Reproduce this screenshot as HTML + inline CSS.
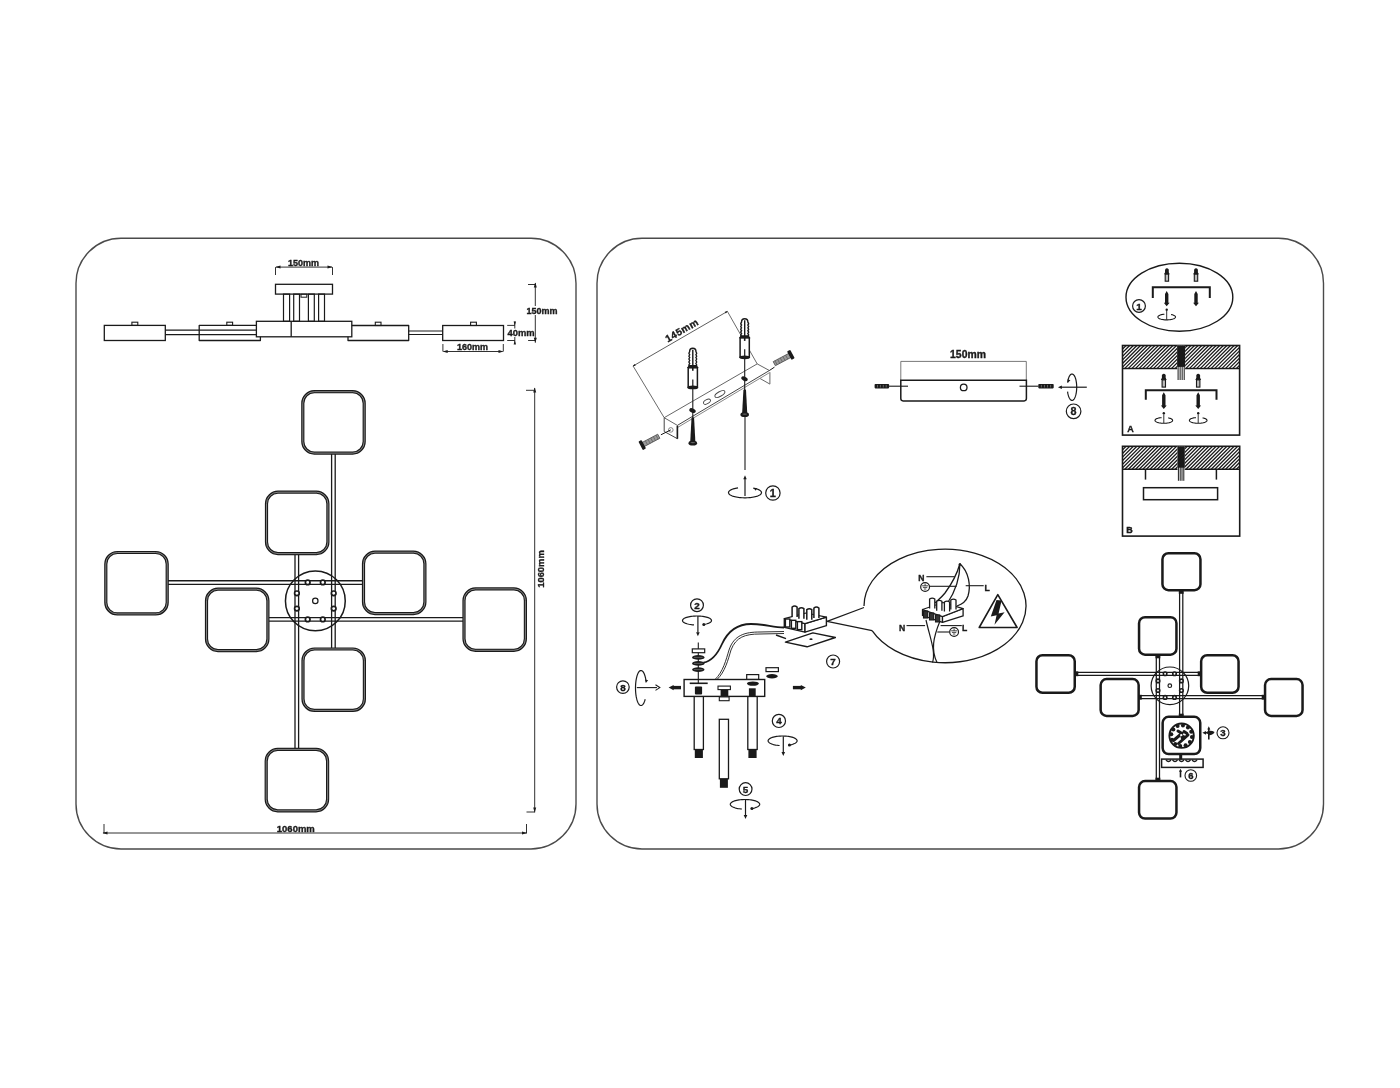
<!DOCTYPE html>
<html><head><meta charset="utf-8"><style>
html,body{margin:0;padding:0;background:#fff;}
body{width:1400px;height:1088px;overflow:hidden;}
svg{display:block;will-change:transform;}
text{font-family:"Liberation Sans",sans-serif;font-weight:bold;stroke:#1a1a1a;stroke-width:0.35px;}
</style></head><body>
<svg width="1400" height="1088" viewBox="0 0 1400 1088">
<rect width="1400" height="1088" fill="#fff"/>
<path d="M121.00,238.30 H531.00 A45,45 0 0 1 576.00,283.30 V804.00 A45,45 0 0 1 531.00,849.00 H121.00 A45,45 0 0 1 76.00,804.00 V283.30 A45,45 0 0 1 121.00,238.30 Z" fill="none" stroke="#4a4a4a" stroke-width="1.4"/>
<path d="M642.00,238.30 H1278.50 A45,45 0 0 1 1323.50,283.30 V804.00 A45,45 0 0 1 1278.50,849.00 H642.00 A45,45 0 0 1 597.00,804.00 V283.30 A45,45 0 0 1 642.00,238.30 Z" fill="none" stroke="#4a4a4a" stroke-width="1.4"/>
<path d="M168,580.75 H362.5 M168,584.35 H362.5" stroke="#1a1a1a" stroke-width="1.3" fill="none"/>
<path d="M268,617.55 H463 M268,621.15 H463" stroke="#1a1a1a" stroke-width="1.3" fill="none"/>
<path d="M295.00,554 V748 M298.60,554 V748" stroke="#1a1a1a" stroke-width="1.3" fill="none"/>
<path d="M331.60,454 V648 M335.20,454 V648" stroke="#1a1a1a" stroke-width="1.3" fill="none"/>
<path d="M314.30,391.70 H352.70 A11.5,11.5 0 0 1 364.20,403.20 V441.60 A11.5,11.5 0 0 1 352.70,453.10 H314.30 A11.5,11.5 0 0 1 302.80,441.60 V403.20 A11.5,11.5 0 0 1 314.30,391.70 Z" fill="none" stroke="#1a1a1a" stroke-width="3.2"/>
<path d="M314.30,391.70 H352.70 A11.5,11.5 0 0 1 364.20,403.20 V441.60 A11.5,11.5 0 0 1 352.70,453.10 H314.30 A11.5,11.5 0 0 1 302.80,441.60 V403.20 A11.5,11.5 0 0 1 314.30,391.70 Z" fill="none" stroke="#a0a0a0" stroke-width="0.8"/>
<path d="M278.00,492.20 H316.40 A11.5,11.5 0 0 1 327.90,503.70 V542.10 A11.5,11.5 0 0 1 316.40,553.60 H278.00 A11.5,11.5 0 0 1 266.50,542.10 V503.70 A11.5,11.5 0 0 1 278.00,492.20 Z" fill="none" stroke="#1a1a1a" stroke-width="3.2"/>
<path d="M278.00,492.20 H316.40 A11.5,11.5 0 0 1 327.90,503.70 V542.10 A11.5,11.5 0 0 1 316.40,553.60 H278.00 A11.5,11.5 0 0 1 266.50,542.10 V503.70 A11.5,11.5 0 0 1 278.00,492.20 Z" fill="none" stroke="#a0a0a0" stroke-width="0.8"/>
<path d="M117.30,552.50 H155.70 A11.5,11.5 0 0 1 167.20,564.00 V602.40 A11.5,11.5 0 0 1 155.70,613.90 H117.30 A11.5,11.5 0 0 1 105.80,602.40 V564.00 A11.5,11.5 0 0 1 117.30,552.50 Z" fill="none" stroke="#1a1a1a" stroke-width="3.2"/>
<path d="M117.30,552.50 H155.70 A11.5,11.5 0 0 1 167.20,564.00 V602.40 A11.5,11.5 0 0 1 155.70,613.90 H117.30 A11.5,11.5 0 0 1 105.80,602.40 V564.00 A11.5,11.5 0 0 1 117.30,552.50 Z" fill="none" stroke="#a0a0a0" stroke-width="0.8"/>
<path d="M375.00,552.20 H413.40 A11.5,11.5 0 0 1 424.90,563.70 V602.10 A11.5,11.5 0 0 1 413.40,613.60 H375.00 A11.5,11.5 0 0 1 363.50,602.10 V563.70 A11.5,11.5 0 0 1 375.00,552.20 Z" fill="none" stroke="#1a1a1a" stroke-width="3.2"/>
<path d="M375.00,552.20 H413.40 A11.5,11.5 0 0 1 424.90,563.70 V602.10 A11.5,11.5 0 0 1 413.40,613.60 H375.00 A11.5,11.5 0 0 1 363.50,602.10 V563.70 A11.5,11.5 0 0 1 375.00,552.20 Z" fill="none" stroke="#a0a0a0" stroke-width="0.8"/>
<path d="M218.00,589.20 H256.40 A11.5,11.5 0 0 1 267.90,600.70 V639.10 A11.5,11.5 0 0 1 256.40,650.60 H218.00 A11.5,11.5 0 0 1 206.50,639.10 V600.70 A11.5,11.5 0 0 1 218.00,589.20 Z" fill="none" stroke="#1a1a1a" stroke-width="3.2"/>
<path d="M218.00,589.20 H256.40 A11.5,11.5 0 0 1 267.90,600.70 V639.10 A11.5,11.5 0 0 1 256.40,650.60 H218.00 A11.5,11.5 0 0 1 206.50,639.10 V600.70 A11.5,11.5 0 0 1 218.00,589.20 Z" fill="none" stroke="#a0a0a0" stroke-width="0.8"/>
<path d="M475.50,588.90 H513.90 A11.5,11.5 0 0 1 525.40,600.40 V638.80 A11.5,11.5 0 0 1 513.90,650.30 H475.50 A11.5,11.5 0 0 1 464.00,638.80 V600.40 A11.5,11.5 0 0 1 475.50,588.90 Z" fill="none" stroke="#1a1a1a" stroke-width="3.2"/>
<path d="M475.50,588.90 H513.90 A11.5,11.5 0 0 1 525.40,600.40 V638.80 A11.5,11.5 0 0 1 513.90,650.30 H475.50 A11.5,11.5 0 0 1 464.00,638.80 V600.40 A11.5,11.5 0 0 1 475.50,588.90 Z" fill="none" stroke="#a0a0a0" stroke-width="0.8"/>
<path d="M314.50,649.00 H352.90 A11.5,11.5 0 0 1 364.40,660.50 V698.90 A11.5,11.5 0 0 1 352.90,710.40 H314.50 A11.5,11.5 0 0 1 303.00,698.90 V660.50 A11.5,11.5 0 0 1 314.50,649.00 Z" fill="none" stroke="#1a1a1a" stroke-width="3.2"/>
<path d="M314.50,649.00 H352.90 A11.5,11.5 0 0 1 364.40,660.50 V698.90 A11.5,11.5 0 0 1 352.90,710.40 H314.50 A11.5,11.5 0 0 1 303.00,698.90 V660.50 A11.5,11.5 0 0 1 314.50,649.00 Z" fill="none" stroke="#a0a0a0" stroke-width="0.8"/>
<path d="M277.70,749.40 H316.10 A11.5,11.5 0 0 1 327.60,760.90 V799.30 A11.5,11.5 0 0 1 316.10,810.80 H277.70 A11.5,11.5 0 0 1 266.20,799.30 V760.90 A11.5,11.5 0 0 1 277.70,749.40 Z" fill="none" stroke="#1a1a1a" stroke-width="3.2"/>
<path d="M277.70,749.40 H316.10 A11.5,11.5 0 0 1 327.60,760.90 V799.30 A11.5,11.5 0 0 1 316.10,810.80 H277.70 A11.5,11.5 0 0 1 266.20,799.30 V760.90 A11.5,11.5 0 0 1 277.70,749.40 Z" fill="none" stroke="#a0a0a0" stroke-width="0.8"/>
<circle cx="315.35" cy="600.9" r="29.9" fill="none" stroke="#1a1a1a" stroke-width="1.5"/>
<circle cx="307.7" cy="582.4" r="2.3" fill="#fff" stroke="#1a1a1a" stroke-width="1.7"/>
<circle cx="322.8" cy="582.4" r="2.3" fill="#fff" stroke="#1a1a1a" stroke-width="1.7"/>
<circle cx="296.9" cy="593.3" r="2.3" fill="#fff" stroke="#1a1a1a" stroke-width="1.7"/>
<circle cx="333.7" cy="593.3" r="2.3" fill="#fff" stroke="#1a1a1a" stroke-width="1.7"/>
<circle cx="296.9" cy="608.6" r="2.3" fill="#fff" stroke="#1a1a1a" stroke-width="1.7"/>
<circle cx="333.7" cy="608.6" r="2.3" fill="#fff" stroke="#1a1a1a" stroke-width="1.7"/>
<circle cx="307.7" cy="619.4" r="2.3" fill="#fff" stroke="#1a1a1a" stroke-width="1.7"/>
<circle cx="322.8" cy="619.4" r="2.3" fill="#fff" stroke="#1a1a1a" stroke-width="1.7"/>
<circle cx="315.3" cy="600.9" r="2.7" fill="#fff" stroke="#1a1a1a" stroke-width="1.2"/>
<rect x="104.3" y="325.4" width="61.00" height="15.10" rx="0" fill="none" stroke="#1a1a1a" stroke-width="1.3"/>
<rect x="131.9" y="322.2" width="5.90" height="3.20" rx="0" fill="none" stroke="#1a1a1a" stroke-width="1.1"/>
<path d="M165.3,330.20 H256.4 M165.3,334.60 H256.4" stroke="#1a1a1a" stroke-width="1.2" fill="none"/>
<path d="M256.40,325.40 L199.20,325.40 L199.20,340.50 L260.40,340.50 L260.40,336.80" fill="none" stroke="#1a1a1a" stroke-width="1.3" stroke-linejoin="round" />
<rect x="226.8" y="322.2" width="5.80" height="3.20" rx="0" fill="none" stroke="#1a1a1a" stroke-width="1.1"/>
<rect x="256.4" y="321.3" width="95.40" height="15.50" rx="0" fill="none" stroke="#1a1a1a" stroke-width="1.3"/>
<line x1="291.2" y1="321.3" x2="291.2" y2="336.8" stroke="#1a1a1a" stroke-width="1.3" />
<path d="M351.80,325.50 L408.70,325.50 L408.70,340.50 L348.00,340.50 L348.00,336.80" fill="none" stroke="#1a1a1a" stroke-width="1.3" stroke-linejoin="round" />
<rect x="375.3" y="322.2" width="5.70" height="3.30" rx="0" fill="none" stroke="#1a1a1a" stroke-width="1.1"/>
<path d="M408.7,331.00 H442.7 M408.7,334.50 H442.7" stroke="#1a1a1a" stroke-width="1.2" fill="none"/>
<rect x="442.7" y="325.5" width="60.80" height="15.00" rx="0" fill="none" stroke="#1a1a1a" stroke-width="1.3"/>
<rect x="470.6" y="322.2" width="5.80" height="3.30" rx="0" fill="none" stroke="#1a1a1a" stroke-width="1.1"/>
<rect x="275.5" y="284.3" width="57.00" height="9.80" rx="0" fill="none" stroke="#1a1a1a" stroke-width="1.3"/>
<rect x="283.5" y="294.1" width="6.10" height="27.20" rx="0" fill="none" stroke="#1a1a1a" stroke-width="1.2"/>
<rect x="293.7" y="294.1" width="5.80" height="27.20" rx="0" fill="none" stroke="#1a1a1a" stroke-width="1.2"/>
<rect x="308.4" y="294.1" width="5.90" height="27.20" rx="0" fill="none" stroke="#1a1a1a" stroke-width="1.2"/>
<rect x="318.6" y="294.1" width="5.90" height="27.20" rx="0" fill="none" stroke="#1a1a1a" stroke-width="1.2"/>
<rect x="301" y="294.1" width="5.80" height="3.10" rx="0" fill="none" stroke="#1a1a1a" stroke-width="1.0"/>
<line x1="276" y1="267.1" x2="332" y2="267.1" stroke="#1a1a1a" stroke-width="0.9" />
<path d="M275.50,267.10 L280.50,265.60 L280.50,268.60 Z" fill="#1a1a1a"/>
<path d="M332.50,267.10 L327.50,268.60 L327.50,265.60 Z" fill="#1a1a1a"/>
<line x1="275.5" y1="267.1" x2="275.5" y2="275" stroke="#1a1a1a" stroke-width="0.9" />
<line x1="332.5" y1="267.1" x2="332.5" y2="275" stroke="#1a1a1a" stroke-width="0.9" />
<text x="303.6" y="265.9" font-size="9" text-anchor="middle" fill="#1a1a1a" >150mm</text>
<line x1="443.5" y1="351.5" x2="502.5" y2="351.5" stroke="#1a1a1a" stroke-width="0.9" />
<path d="M442.70,351.50 L447.70,350.00 L447.70,353.00 Z" fill="#1a1a1a"/>
<path d="M503.50,351.50 L498.50,353.00 L498.50,350.00 Z" fill="#1a1a1a"/>
<line x1="442.9" y1="344" x2="442.9" y2="351.5" stroke="#1a1a1a" stroke-width="0.9" />
<line x1="503.3" y1="344" x2="503.3" y2="351.5" stroke="#1a1a1a" stroke-width="0.9" />
<text x="472.5" y="349.6" font-size="9" text-anchor="middle" fill="#1a1a1a" >160mm</text>
<line x1="514.8" y1="321.5" x2="514.8" y2="344" stroke="#1a1a1a" stroke-width="0.9" />
<path d="M514.80,325.40 L513.60,321.40 L516.00,321.40 Z" fill="#1a1a1a"/>
<path d="M514.80,340.50 L516.00,344.50 L513.60,344.50 Z" fill="#1a1a1a"/>
<line x1="507.2" y1="325.4" x2="514.8" y2="325.4" stroke="#1a1a1a" stroke-width="0.9" />
<line x1="507.2" y1="340.5" x2="514.8" y2="340.5" stroke="#1a1a1a" stroke-width="0.9" />
<rect x="507" y="328.5" width="28" height="8.5" fill="#fff"/>
<text x="507.5" y="335.6" font-size="9.4" text-anchor="start" fill="#1a1a1a" >40mm</text>
<line x1="535.3" y1="283" x2="535.3" y2="342.7" stroke="#1a1a1a" stroke-width="0.9" />
<path d="M535.30,282.50 L536.80,287.50 L533.80,287.50 Z" fill="#1a1a1a"/>
<path d="M535.30,342.70 L533.80,337.70 L536.80,337.70 Z" fill="#1a1a1a"/>
<line x1="528" y1="284.5" x2="535.3" y2="284.5" stroke="#1a1a1a" stroke-width="0.9" />
<line x1="528.1" y1="340.5" x2="535.3" y2="340.5" stroke="#1a1a1a" stroke-width="0.9" />
<rect x="524" y="306" width="36" height="9" fill="#fff"/>
<text x="526.5" y="313.8" font-size="9" text-anchor="start" fill="#1a1a1a" >150mm</text>
<line x1="534.7" y1="388" x2="534.7" y2="812.4" stroke="#1a1a1a" stroke-width="0.9" />
<path d="M534.70,387.50 L536.20,392.50 L533.20,392.50 Z" fill="#1a1a1a"/>
<path d="M534.70,812.40 L533.20,807.40 L536.20,807.40 Z" fill="#1a1a1a"/>
<line x1="526" y1="390.3" x2="534.7" y2="390.3" stroke="#1a1a1a" stroke-width="0.9" />
<line x1="526.5" y1="812" x2="534.7" y2="812" stroke="#1a1a1a" stroke-width="0.9" />
<text x="540.3" y="569" font-size="9.4" text-anchor="middle" fill="#1a1a1a" transform="rotate(-90 540.3 569)" dominant-baseline="central">1060mm</text>
<line x1="103" y1="833" x2="527" y2="833" stroke="#1a1a1a" stroke-width="0.9" />
<path d="M102.50,833.00 L107.50,831.50 L107.50,834.50 Z" fill="#1a1a1a"/>
<path d="M527.00,833.00 L522.00,834.50 L522.00,831.50 Z" fill="#1a1a1a"/>
<line x1="104" y1="824" x2="104" y2="833" stroke="#1a1a1a" stroke-width="0.9" />
<line x1="526.5" y1="824" x2="526.5" y2="833" stroke="#1a1a1a" stroke-width="0.9" />
<text x="295.8" y="831.6" font-size="9.5" text-anchor="middle" fill="#1a1a1a" >1060mm</text>
<line x1="633.1" y1="366" x2="727.4" y2="311.4" stroke="#333" stroke-width="0.8" />
<path d="M632.60,366.30 L634.70,363.93 L635.70,365.67 Z" fill="#1a1a1a"/>
<path d="M727.90,311.10 L725.80,313.47 L724.80,311.73 Z" fill="#1a1a1a"/>
<line x1="633.1" y1="366" x2="664.2" y2="417.7" stroke="#444" stroke-width="0.8" />
<line x1="727.4" y1="311.4" x2="757.2" y2="363.9" stroke="#444" stroke-width="0.8" />
<text x="0" y="0" font-size="9.9" letter-spacing="0.55" text-anchor="middle" fill="#1a1a1a" transform="translate(683.6,333.2) rotate(-30.07)">145mm</text>
<line x1="664.2" y1="417.7" x2="757.2" y2="363.9" stroke="#555" stroke-width="0.9" />
<line x1="757.2" y1="363.9" x2="769.4" y2="370.5" stroke="#555" stroke-width="0.9" />
<line x1="664.2" y1="417.7" x2="677.4" y2="425.4" stroke="#555" stroke-width="0.9" />
<line x1="677.4" y1="425.4" x2="769.4" y2="370.5" stroke="#444" stroke-width="1.0" />
<line x1="677.4" y1="427.6" x2="769.4" y2="372.7" stroke="#888" stroke-width="1.0" />
<path d="M664.20,417.70 L664.20,431.50 L677.40,438.70 L677.40,425.40" fill="none" stroke="#444" stroke-width="1.0" stroke-linejoin="round" />
<line x1="677.4" y1="426" x2="677.4" y2="438.7" stroke="#1a1a1a" stroke-width="1.6" />
<path d="M769.90,372.20 L769.90,384.10 L760.20,378.60" fill="none" stroke="#666" stroke-width="1.0" stroke-linejoin="round" />
<circle cx="670.8" cy="429.9" r="2.3" fill="none" stroke="#777" stroke-width="0.9"/>
<ellipse cx="707" cy="401.7" rx="3.8" ry="2" transform="rotate(-30 707 401.7)" fill="none" stroke="#444" stroke-width="0.9"/>
<ellipse cx="719.9" cy="394" rx="5.6" ry="2.3" transform="rotate(-30 719.9 394)" fill="none" stroke="#444" stroke-width="0.9"/>
<line x1="692.8" y1="387.4" x2="692.8" y2="421" stroke="#1a1a1a" stroke-width="1.1" />
<path d="M689.5999999999999,366.3 Q688.1999999999999,364.85 689.5999999999999,363.40 Q688.1999999999999,361.95 689.5999999999999,360.50 Q688.1999999999999,359.05 689.5999999999999,357.60 Q688.1999999999999,356.15 689.5999999999999,354.70 Q688.1999999999999,353.25 689.5999999999999,351.80 Q689.5999999999999,348.3 692.8,348.3 Q696.0,348.3 696.0,351.8 Q697.4,353.25 696.0,354.70 Q697.4,356.15 696.0,357.60 Q697.4,359.05 696.0,360.50 Q697.4,361.95 696.0,363.40 Q697.4,364.85 696.0,366.30" fill="#fff" stroke="#1a1a1a" stroke-width="1.4"/>
<line x1="692.8" y1="349.8" x2="692.8" y2="370.3" stroke="#1a1a1a" stroke-width="1.4" />
<path d="M687.0,368.1 L688.8,365.1 H696.8 L698.5999999999999,368.1 Z" fill="#1a1a1a"/>
<rect x="688.1999999999999" y="367.8" width="9.20" height="19.60" rx="0" fill="#fff" stroke="#1a1a1a" stroke-width="1.5"/>
<line x1="692.8" y1="367.8" x2="692.8" y2="370.8" stroke="#1a1a1a" stroke-width="1.6" />
<line x1="692.8" y1="379.4" x2="692.8" y2="387.4" stroke="#1a1a1a" stroke-width="1.2" />
<ellipse cx="692.8" cy="387.4" rx="5.4" ry="1.9" fill="#1a1a1a"/>
<ellipse cx="692.5" cy="410.6" rx="3.4" ry="2.1" transform="rotate(25 692.5 410.6)" fill="#1a1a1a"/>
<path d="M691.5,418 Q692.8,416.5 694.0999999999999,418 L695.4,442.5 L690.1999999999999,442.5 Z" fill="#1a1a1a"/>
<ellipse cx="692.8" cy="443.2" rx="4.3" ry="2.4" fill="#1a1a1a"/>
<ellipse cx="692.8" cy="442.6" rx="2.4" ry="0.7" fill="#666"/>
<line x1="744.7" y1="357.3" x2="744.7" y2="393" stroke="#1a1a1a" stroke-width="1.1" />
<path d="M741.5,336.4 Q740.1,334.98 741.5,333.56 Q740.1,332.14 741.5,330.72 Q740.1,329.30 741.5,327.88 Q740.1,326.46 741.5,325.04 Q740.1,323.62 741.5,322.20 Q741.5,318.7 744.7,318.7 Q747.9000000000001,318.7 747.9000000000001,322.2 Q749.3000000000001,323.62 747.9000000000001,325.04 Q749.3000000000001,326.46 747.9000000000001,327.88 Q749.3000000000001,329.30 747.9000000000001,330.72 Q749.3000000000001,332.14 747.9000000000001,333.56 Q749.3000000000001,334.98 747.9000000000001,336.40" fill="#fff" stroke="#1a1a1a" stroke-width="1.4"/>
<line x1="744.7" y1="320.2" x2="744.7" y2="340.4" stroke="#1a1a1a" stroke-width="1.4" />
<path d="M738.9000000000001,338.2 L740.7,335.2 H748.7 L750.5,338.2 Z" fill="#1a1a1a"/>
<rect x="740.1" y="337.9" width="9.20" height="19.40" rx="0" fill="#fff" stroke="#1a1a1a" stroke-width="1.5"/>
<line x1="744.7" y1="337.9" x2="744.7" y2="340.9" stroke="#1a1a1a" stroke-width="1.6" />
<line x1="744.7" y1="349.3" x2="744.7" y2="357.3" stroke="#1a1a1a" stroke-width="1.2" />
<ellipse cx="744.7" cy="357.3" rx="5.4" ry="1.9" fill="#1a1a1a"/>
<ellipse cx="744.5" cy="378.8" rx="3.4" ry="2.1" transform="rotate(25 744.5 378.8)" fill="#1a1a1a"/>
<path d="M743.4000000000001,390 Q744.7,388.5 746.0,390 L747.3000000000001,414.0 L742.1,414.0 Z" fill="#1a1a1a"/>
<ellipse cx="744.7" cy="414.7" rx="4.3" ry="2.4" fill="#1a1a1a"/>
<ellipse cx="744.7" cy="414.1" rx="2.4" ry="0.7" fill="#666"/>
<line x1="745" y1="415" x2="745" y2="470" stroke="#1a1a1a" stroke-width="1.1" />
<line x1="660.9" y1="434.8" x2="670.8" y2="429.9" stroke="#1a1a1a" stroke-width="1.0" />
<g transform="translate(643.8,444.2) rotate(-28)"><rect x="-1" y="-2.3" width="18" height="4.6" fill="#9a9a9a" stroke="#444" stroke-width="0.7"/><path d="M3,-2.3 v4.6 M6,-2.3 v4.6 M9,-2.3 v4.6 M12,-2.3 v4.6 M15,-2.3 v4.6" stroke="#555" stroke-width="0.6"/><rect x="-3.6" y="-4.8" width="3.6" height="9.6" rx="0.8" fill="#1a1a1a"/></g>
<line x1="769.4" y1="370.5" x2="774.5" y2="367.1" stroke="#1a1a1a" stroke-width="1.0" />
<g transform="translate(789.3,355.7) rotate(152)"><rect x="-1" y="-2.3" width="18" height="4.6" fill="#9a9a9a" stroke="#444" stroke-width="0.7"/><path d="M3,-2.3 v4.6 M6,-2.3 v4.6 M9,-2.3 v4.6 M12,-2.3 v4.6 M15,-2.3 v4.6" stroke="#555" stroke-width="0.6"/><rect x="-3.6" y="-4.8" width="3.6" height="9.6" rx="0.8" fill="#1a1a1a"/></g>
<path d="M745,496 V478" stroke="#1a1a1a" stroke-width="1.2"/>
<path d="M745.00,475.30 L746.70,479.30 L743.30,479.30 Z" fill="#1a1a1a"/>
<path d="M753.25,488.10 L754.48,488.34 L755.64,488.63 L756.72,488.94 L757.70,489.28 L758.58,489.65 L759.36,490.04 L760.02,490.45 L760.57,490.88 L760.99,491.32 L761.29,491.77 L761.46,492.23 L761.50,492.69 L761.41,493.15 L761.19,493.61 L760.84,494.06 L760.37,494.49 L759.78,494.91 L759.07,495.32 L758.25,495.70 L757.33,496.06 L756.31,496.39 L755.20,496.69 L754.01,496.96 L752.75,497.19 L751.42,497.39 L750.05,497.55 L748.64,497.67 L747.20,497.75 L745.74,497.79 L744.28,497.80 L742.82,497.75 L741.38,497.67 L739.97,497.55 L738.60,497.39 L737.27,497.19 L736.01,496.96 L734.82,496.69 L733.71,496.39 L732.69,496.06 L731.76,495.71 L730.94,495.32 L730.23,494.92 L729.64,494.50 L729.17,494.06 L728.82,493.61 L728.60,493.16 L728.50,492.70 L728.54,492.24 L728.71,491.78 L729.00,491.33 L729.42,490.89 L729.97,490.46 L730.63,490.05 L731.40,489.65 L732.28,489.29 L733.27,488.94 L734.34,488.63 L735.50,488.35 L736.73,488.10 L738.03,487.89" fill="none" stroke="#1a1a1a" stroke-width="1.2"/>
<path d="M753.55,488.30 L756.88,487.91 L755.86,490.73 Z" fill="#1a1a1a"/>
<circle cx="772.9" cy="493" r="7.2" fill="#fff" stroke="#1a1a1a" stroke-width="1.2"/>
<text x="772.9" y="496.90" font-size="11.00" text-anchor="middle" fill="#1a1a1a">1</text>
<line x1="900.8" y1="361.4" x2="1026.3" y2="361.4" stroke="#555" stroke-width="0.8" />
<line x1="900.8" y1="361.4" x2="900.8" y2="380" stroke="#555" stroke-width="0.8" />
<line x1="1026.3" y1="361.4" x2="1026.3" y2="380" stroke="#555" stroke-width="0.8" />
<text x="968" y="358.3" font-size="10.4" text-anchor="middle" fill="#1a1a1a" >150mm</text>
<path d="M900.8,380.3 H1026.4 V398.6 Q1026.4,400.9 1024.1,400.9 H903.1 Q900.8,400.9 900.8,398.6 Z" fill="none" stroke="#1a1a1a" stroke-width="1.5"/>
<circle cx="963.7" cy="387.4" r="3.3" fill="none" stroke="#1a1a1a" stroke-width="1.3"/>
<line x1="889" y1="386.2" x2="908" y2="386.2" stroke="#1a1a1a" stroke-width="1.1" />
<line x1="1019.5" y1="386.2" x2="1038.5" y2="386.2" stroke="#1a1a1a" stroke-width="1.1" />
<rect x="874.6" y="384.0" width="14.5" height="4.4" rx="0.8" fill="#1a1a1a"/>
<line x1="877.50" y1="384.9" x2="877.50" y2="387.5" stroke="#aaa" stroke-width="0.5"/>
<line x1="880.40" y1="384.9" x2="880.40" y2="387.5" stroke="#aaa" stroke-width="0.5"/>
<line x1="883.30" y1="384.9" x2="883.30" y2="387.5" stroke="#aaa" stroke-width="0.5"/>
<line x1="886.20" y1="384.9" x2="886.20" y2="387.5" stroke="#aaa" stroke-width="0.5"/>
<rect x="1038.3" y="384.0" width="15.400000000000091" height="4.4" rx="0.8" fill="#1a1a1a"/>
<line x1="1041.38" y1="384.9" x2="1041.38" y2="387.5" stroke="#aaa" stroke-width="0.5"/>
<line x1="1044.46" y1="384.9" x2="1044.46" y2="387.5" stroke="#aaa" stroke-width="0.5"/>
<line x1="1047.54" y1="384.9" x2="1047.54" y2="387.5" stroke="#aaa" stroke-width="0.5"/>
<line x1="1050.62" y1="384.9" x2="1050.62" y2="387.5" stroke="#aaa" stroke-width="0.5"/>
<line x1="1060" y1="387.2" x2="1086.8" y2="387.2" stroke="#1a1a1a" stroke-width="1.2" />
<path d="M1057.90,387.20 L1061.90,385.40 L1061.90,389.00 Z" fill="#1a1a1a"/>
<path d="M1067.58,382.69 L1067.75,381.55 L1067.96,380.47 L1068.20,379.44 L1068.47,378.48 L1068.77,377.60 L1069.11,376.80 L1069.46,376.09 L1069.84,375.47 L1070.24,374.96 L1070.65,374.55 L1071.08,374.26 L1071.51,374.07 L1071.95,374.00 L1072.38,374.04 L1072.82,374.20 L1073.24,374.47 L1073.66,374.85 L1074.06,375.34 L1074.44,375.93 L1074.81,376.61 L1075.14,377.39 L1075.46,378.25 L1075.74,379.19 L1075.99,380.21 L1076.20,381.28 L1076.38,382.40 L1076.52,383.56 L1076.62,384.76 L1076.68,385.97 L1076.70,387.20 L1076.68,388.43 L1076.62,389.64 L1076.52,390.84 L1076.38,392.00 L1076.20,393.12 L1075.99,394.19 L1075.74,395.21 L1075.46,396.15 L1075.14,397.01 L1074.81,397.79 L1074.44,398.47 L1074.06,399.06 L1073.66,399.55 L1073.24,399.93 L1072.82,400.20 L1072.38,400.36 L1071.95,400.40 L1071.51,400.33 L1071.08,400.14 L1070.65,399.85 L1070.24,399.44 L1069.84,398.93 L1069.46,398.31 L1069.11,397.60 L1068.77,396.80 L1068.47,395.92 L1068.20,394.96 L1067.96,393.93 L1067.75,392.85 L1067.58,391.71" fill="none" stroke="#1a1a1a" stroke-width="1.2"/>
<path d="M1068.00,382.60 L1067.62,379.27 L1070.44,380.29 Z" fill="#1a1a1a"/>
<circle cx="1073.6" cy="411.3" r="7.3" fill="#fff" stroke="#1a1a1a" stroke-width="1.2"/>
<text x="1073.6" y="415.13" font-size="10.78" text-anchor="middle" fill="#1a1a1a">8</text>
<ellipse cx="1179.4" cy="297.2" rx="53.4" ry="34" fill="none" stroke="#1a1a1a" stroke-width="1.4"/>
<path d="M1152.8,298 V287.3 H1209.8 V298" fill="none" stroke="#1a1a1a" stroke-width="2"/>
<path d="M1165.0,273.9 V269.4 Q1166.9,266.9 1168.8000000000002,269.4 V273.9 Z" fill="#1a1a1a"/>
<path d="M1164.0,274.2 L1165.0,272.4 H1168.8000000000002 L1169.8000000000002,274.2 Z" fill="#1a1a1a"/>
<rect x="1165.2" y="274.2" width="3.4" height="7.0000000000000115" fill="#bbb" stroke="#1a1a1a" stroke-width="1.1"/>
<path d="M1194.1,273.9 V269.4 Q1196,266.9 1197.9,269.4 V273.9 Z" fill="#1a1a1a"/>
<path d="M1193.1,274.2 L1194.1,272.4 H1197.9 L1198.9,274.2 Z" fill="#1a1a1a"/>
<rect x="1194.3" y="274.2" width="3.4" height="7.0000000000000115" fill="#bbb" stroke="#1a1a1a" stroke-width="1.1"/>
<path d="M1166.7,290.9 L1168.4,293.9 V302.8 L1169.6000000000001,302.8 L1166.7,306.3 L1163.8,302.8 L1165.0,302.8 V293.9 Z" fill="#1a1a1a"/>
<path d="M1196,290.9 L1197.7,293.9 V302.8 L1198.9,302.8 L1196,306.3 L1193.1,302.8 L1194.3,302.8 V293.9 Z" fill="#1a1a1a"/>
<path d="M1171.10,314.49 L1171.78,314.63 L1172.42,314.79 L1173.00,314.98 L1173.54,315.17 L1174.02,315.39 L1174.43,315.62 L1174.79,315.86 L1175.07,316.10 L1175.28,316.36 L1175.42,316.62 L1175.49,316.89 L1175.49,317.15 L1175.41,317.42 L1175.26,317.68 L1175.03,317.93 L1174.74,318.18 L1174.38,318.42 L1173.95,318.64 L1173.47,318.85 L1172.92,319.05 L1172.33,319.23 L1171.68,319.39 L1171.00,319.53 L1170.28,319.65 L1169.53,319.75 L1168.75,319.82 L1167.96,319.87 L1167.16,319.90 L1166.35,319.90 L1165.55,319.88 L1164.76,319.83 L1163.98,319.76 L1163.23,319.66 L1162.50,319.55 L1161.81,319.41 L1161.16,319.25 L1160.56,319.08 L1160.01,318.88 L1159.51,318.67 L1159.08,318.45 L1158.71,318.21 L1158.40,317.97 L1158.17,317.71 L1158.01,317.45 L1157.92,317.19 L1157.90,316.92 L1157.96,316.66 L1158.09,316.40 L1158.30,316.14 L1158.57,315.89 L1158.91,315.65 L1159.32,315.42 L1159.79,315.20 L1160.32,315.00 L1160.90,314.82 L1161.53,314.65 L1162.20,314.51 L1162.91,314.38 L1163.65,314.28 L1164.42,314.20" fill="none" stroke="#1a1a1a" stroke-width="1.1"/>
<line x1="1166.7" y1="319.6" x2="1166.7" y2="311" stroke="#1a1a1a" stroke-width="0.9"/>
<circle cx="1166.7" cy="309.8" r="1.2" fill="#1a1a1a"/>
<circle cx="1139" cy="306" r="6.4" fill="#fff" stroke="#1a1a1a" stroke-width="1.2"/>
<text x="1139" y="309.51" font-size="9.90" text-anchor="middle" fill="#1a1a1a">1</text>
<clipPath id="c1122345"><rect x="1122.5" y="345.5" width="117.09999999999991" height="22.899999999999977"/></clipPath>
<path d="M1099.60,368.4 L1122.50,345.5 M1103.20,368.4 L1126.10,345.5 M1106.80,368.4 L1129.70,345.5 M1110.40,368.4 L1133.30,345.5 M1114.00,368.4 L1136.90,345.5 M1117.60,368.4 L1140.50,345.5 M1121.20,368.4 L1144.10,345.5 M1124.80,368.4 L1147.70,345.5 M1128.40,368.4 L1151.30,345.5 M1132.00,368.4 L1154.90,345.5 M1135.60,368.4 L1158.50,345.5 M1139.20,368.4 L1162.10,345.5 M1142.80,368.4 L1165.70,345.5 M1146.40,368.4 L1169.30,345.5 M1150.00,368.4 L1172.90,345.5 M1153.60,368.4 L1176.50,345.5 M1157.20,368.4 L1180.10,345.5 M1160.80,368.4 L1183.70,345.5 M1164.40,368.4 L1187.30,345.5 M1168.00,368.4 L1190.90,345.5 M1171.60,368.4 L1194.50,345.5 M1175.20,368.4 L1198.10,345.5 M1178.80,368.4 L1201.70,345.5 M1182.40,368.4 L1205.30,345.5 M1186.00,368.4 L1208.90,345.5 M1189.60,368.4 L1212.50,345.5 M1193.20,368.4 L1216.10,345.5 M1196.80,368.4 L1219.70,345.5 M1200.40,368.4 L1223.30,345.5 M1204.00,368.4 L1226.90,345.5 M1207.60,368.4 L1230.50,345.5 M1211.20,368.4 L1234.10,345.5 M1214.80,368.4 L1237.70,345.5 M1218.40,368.4 L1241.30,345.5 M1222.00,368.4 L1244.90,345.5 M1225.60,368.4 L1248.50,345.5 M1229.20,368.4 L1252.10,345.5 M1232.80,368.4 L1255.70,345.5 M1236.40,368.4 L1259.30,345.5 " stroke="#1a1a1a" stroke-width="1.3" clip-path="url(#c1122345)"/>
<rect x="1122.5" y="345.5" width="117.1" height="89.6" fill="none" stroke="#1a1a1a" stroke-width="1.6"/>
<line x1="1122.5" y1="368.4" x2="1239.6" y2="368.4" stroke="#1a1a1a" stroke-width="1.5" />
<rect x="1177.2" y="345.5" width="7.899999999999864" height="34.5" fill="#fff"/>
<rect x="1177.2" y="345.5" width="7.899999999999864" height="21.39" fill="#1a1a1a"/>
<line x1="1178.10" y1="345.5" x2="1178.10" y2="380" stroke="#1a1a1a" stroke-width="1"/>
<line x1="1180.13" y1="345.5" x2="1180.13" y2="380" stroke="#1a1a1a" stroke-width="1"/>
<line x1="1182.17" y1="345.5" x2="1182.17" y2="380" stroke="#1a1a1a" stroke-width="1"/>
<line x1="1184.20" y1="345.5" x2="1184.20" y2="380" stroke="#1a1a1a" stroke-width="1"/>
<path d="M1145.8,399.8 V390.2 H1216.5 V399.8" fill="none" stroke="#1a1a1a" stroke-width="2"/>
<path d="M1161.8999999999999,379.6 V375.1 Q1163.8,372.6 1165.7,375.1 V379.6 Z" fill="#1a1a1a"/>
<path d="M1160.8999999999999,379.90000000000003 L1161.8999999999999,378.1 H1165.7 L1166.7,379.90000000000003 Z" fill="#1a1a1a"/>
<rect x="1162.1" y="379.90000000000003" width="3.4" height="7.2" fill="#bbb" stroke="#1a1a1a" stroke-width="1.1"/>
<path d="M1196.3,379.6 V375.1 Q1198.2,372.6 1200.1000000000001,375.1 V379.6 Z" fill="#1a1a1a"/>
<path d="M1195.3,379.90000000000003 L1196.3,378.1 H1200.1000000000001 L1201.1000000000001,379.90000000000003 Z" fill="#1a1a1a"/>
<rect x="1196.5" y="379.90000000000003" width="3.4" height="7.2" fill="#bbb" stroke="#1a1a1a" stroke-width="1.1"/>
<path d="M1163.8,392.3 L1165.5,395.3 V405.4 L1166.7,405.4 L1163.8,408.9 L1160.8999999999999,405.4 L1162.1,405.4 V395.3 Z" fill="#1a1a1a"/>
<path d="M1198.2,392.3 L1199.9,395.3 V405.4 L1201.1000000000001,405.4 L1198.2,408.9 L1195.3,405.4 L1196.5,405.4 V395.3 Z" fill="#1a1a1a"/>
<path d="M1168.20,417.89 L1168.88,418.03 L1169.52,418.19 L1170.10,418.38 L1170.64,418.57 L1171.12,418.79 L1171.53,419.02 L1171.89,419.26 L1172.17,419.50 L1172.38,419.76 L1172.52,420.02 L1172.59,420.29 L1172.59,420.55 L1172.51,420.82 L1172.36,421.08 L1172.13,421.33 L1171.84,421.58 L1171.48,421.82 L1171.05,422.04 L1170.57,422.25 L1170.02,422.45 L1169.43,422.63 L1168.78,422.79 L1168.10,422.93 L1167.38,423.05 L1166.63,423.15 L1165.85,423.22 L1165.06,423.27 L1164.26,423.30 L1163.45,423.30 L1162.65,423.28 L1161.86,423.23 L1161.08,423.16 L1160.33,423.06 L1159.60,422.95 L1158.91,422.81 L1158.26,422.65 L1157.66,422.48 L1157.11,422.28 L1156.61,422.07 L1156.18,421.85 L1155.81,421.61 L1155.50,421.37 L1155.27,421.11 L1155.11,420.85 L1155.02,420.59 L1155.00,420.32 L1155.06,420.06 L1155.19,419.80 L1155.40,419.54 L1155.67,419.29 L1156.01,419.05 L1156.42,418.82 L1156.89,418.60 L1157.42,418.40 L1158.00,418.22 L1158.63,418.05 L1159.30,417.91 L1160.01,417.78 L1160.75,417.68 L1161.52,417.60" fill="none" stroke="#1a1a1a" stroke-width="1.1"/>
<line x1="1163.8" y1="423.0" x2="1163.8" y2="414.4" stroke="#1a1a1a" stroke-width="0.9"/>
<circle cx="1163.8" cy="413.2" r="1.2" fill="#1a1a1a"/>
<path d="M1202.60,417.89 L1203.28,418.03 L1203.92,418.19 L1204.50,418.38 L1205.04,418.57 L1205.52,418.79 L1205.93,419.02 L1206.29,419.26 L1206.57,419.50 L1206.78,419.76 L1206.92,420.02 L1206.99,420.29 L1206.99,420.55 L1206.91,420.82 L1206.76,421.08 L1206.53,421.33 L1206.24,421.58 L1205.88,421.82 L1205.45,422.04 L1204.97,422.25 L1204.42,422.45 L1203.83,422.63 L1203.18,422.79 L1202.50,422.93 L1201.78,423.05 L1201.03,423.15 L1200.25,423.22 L1199.46,423.27 L1198.66,423.30 L1197.85,423.30 L1197.05,423.28 L1196.26,423.23 L1195.48,423.16 L1194.73,423.06 L1194.00,422.95 L1193.31,422.81 L1192.66,422.65 L1192.06,422.48 L1191.51,422.28 L1191.01,422.07 L1190.58,421.85 L1190.21,421.61 L1189.90,421.37 L1189.67,421.11 L1189.51,420.85 L1189.42,420.59 L1189.40,420.32 L1189.46,420.06 L1189.59,419.80 L1189.80,419.54 L1190.07,419.29 L1190.41,419.05 L1190.82,418.82 L1191.29,418.60 L1191.82,418.40 L1192.40,418.22 L1193.03,418.05 L1193.70,417.91 L1194.41,417.78 L1195.15,417.68 L1195.92,417.60" fill="none" stroke="#1a1a1a" stroke-width="1.1"/>
<line x1="1198.2" y1="423.0" x2="1198.2" y2="414.4" stroke="#1a1a1a" stroke-width="0.9"/>
<circle cx="1198.2" cy="413.2" r="1.2" fill="#1a1a1a"/>
<text x="1130.5" y="432.2" font-size="9" text-anchor="middle" fill="#1a1a1a" >A</text>
<clipPath id="c1122446"><rect x="1122.5" y="446.3" width="117.20000000000005" height="22.899999999999977"/></clipPath>
<path d="M1099.60,469.2 L1122.50,446.3 M1103.20,469.2 L1126.10,446.3 M1106.80,469.2 L1129.70,446.3 M1110.40,469.2 L1133.30,446.3 M1114.00,469.2 L1136.90,446.3 M1117.60,469.2 L1140.50,446.3 M1121.20,469.2 L1144.10,446.3 M1124.80,469.2 L1147.70,446.3 M1128.40,469.2 L1151.30,446.3 M1132.00,469.2 L1154.90,446.3 M1135.60,469.2 L1158.50,446.3 M1139.20,469.2 L1162.10,446.3 M1142.80,469.2 L1165.70,446.3 M1146.40,469.2 L1169.30,446.3 M1150.00,469.2 L1172.90,446.3 M1153.60,469.2 L1176.50,446.3 M1157.20,469.2 L1180.10,446.3 M1160.80,469.2 L1183.70,446.3 M1164.40,469.2 L1187.30,446.3 M1168.00,469.2 L1190.90,446.3 M1171.60,469.2 L1194.50,446.3 M1175.20,469.2 L1198.10,446.3 M1178.80,469.2 L1201.70,446.3 M1182.40,469.2 L1205.30,446.3 M1186.00,469.2 L1208.90,446.3 M1189.60,469.2 L1212.50,446.3 M1193.20,469.2 L1216.10,446.3 M1196.80,469.2 L1219.70,446.3 M1200.40,469.2 L1223.30,446.3 M1204.00,469.2 L1226.90,446.3 M1207.60,469.2 L1230.50,446.3 M1211.20,469.2 L1234.10,446.3 M1214.80,469.2 L1237.70,446.3 M1218.40,469.2 L1241.30,446.3 M1222.00,469.2 L1244.90,446.3 M1225.60,469.2 L1248.50,446.3 M1229.20,469.2 L1252.10,446.3 M1232.80,469.2 L1255.70,446.3 M1236.40,469.2 L1259.30,446.3 " stroke="#1a1a1a" stroke-width="1.3" clip-path="url(#c1122446)"/>
<rect x="1122.5" y="446.3" width="117.2" height="89.8" fill="none" stroke="#1a1a1a" stroke-width="1.6"/>
<line x1="1122.5" y1="469.2" x2="1239.7" y2="469.2" stroke="#1a1a1a" stroke-width="1.5" />
<rect x="1177.5" y="446.3" width="7.2000000000000455" height="34.5" fill="#fff"/>
<rect x="1177.5" y="446.3" width="7.2000000000000455" height="21.39" fill="#1a1a1a"/>
<line x1="1178.40" y1="446.3" x2="1178.40" y2="480.8" stroke="#1a1a1a" stroke-width="1"/>
<line x1="1180.20" y1="446.3" x2="1180.20" y2="480.8" stroke="#1a1a1a" stroke-width="1"/>
<line x1="1182.00" y1="446.3" x2="1182.00" y2="480.8" stroke="#1a1a1a" stroke-width="1"/>
<line x1="1183.80" y1="446.3" x2="1183.80" y2="480.8" stroke="#1a1a1a" stroke-width="1"/>
<line x1="1145.5" y1="469.2" x2="1145.5" y2="479.6" stroke="#1a1a1a" stroke-width="1.5" />
<line x1="1216.4" y1="469.2" x2="1216.4" y2="479.6" stroke="#1a1a1a" stroke-width="1.5" />
<rect x="1143.5" y="487.7" width="74.10" height="12.00" rx="0" fill="none" stroke="#1a1a1a" stroke-width="1.5"/>
<text x="1129.5" y="532.6" font-size="9" text-anchor="middle" fill="#1a1a1a" >B</text>
<path d="M1076,672.30 H1200 M1076,675.30 H1200" stroke="#1a1a1a" stroke-width="1.25" fill="none"/>
<path d="M1140,695.70 H1264 M1140,698.70 H1264" stroke="#1a1a1a" stroke-width="1.25" fill="none"/>
<path d="M1156.30,655.9 V780 M1159.50,655.9 V780" stroke="#1a1a1a" stroke-width="1.25" fill="none"/>
<path d="M1179.60,591.4 V716 M1182.80,591.4 V716" stroke="#1a1a1a" stroke-width="1.25" fill="none"/>
<path d="M1168.45,553.25 H1194.45 A6,6 0 0 1 1200.45,559.25 V584.15 A6,6 0 0 1 1194.45,590.15 H1168.45 A6,6 0 0 1 1162.45,584.15 V559.25 A6,6 0 0 1 1168.45,553.25 Z" fill="#fff" stroke="#1a1a1a" stroke-width="2.5"/>
<path d="M1145.05,617.15 H1170.45 A6,6 0 0 1 1176.45,623.15 V648.65 A6,6 0 0 1 1170.45,654.65 H1145.05 A6,6 0 0 1 1139.05,648.65 V623.15 A6,6 0 0 1 1145.05,617.15 Z" fill="#fff" stroke="#1a1a1a" stroke-width="2.5"/>
<path d="M1042.45,655.25 H1068.75 A6,6 0 0 1 1074.75,661.25 V686.75 A6,6 0 0 1 1068.75,692.75 H1042.45 A6,6 0 0 1 1036.45,686.75 V661.25 A6,6 0 0 1 1042.45,655.25 Z" fill="#fff" stroke="#1a1a1a" stroke-width="2.5"/>
<path d="M1207.15,655.25 H1232.55 A6,6 0 0 1 1238.55,661.25 V686.75 A6,6 0 0 1 1232.55,692.75 H1207.15 A6,6 0 0 1 1201.15,686.75 V661.25 A6,6 0 0 1 1207.15,655.25 Z" fill="#fff" stroke="#1a1a1a" stroke-width="2.5"/>
<path d="M1106.65,679.05 H1132.65 A6,6 0 0 1 1138.65,685.05 V709.95 A6,6 0 0 1 1132.65,715.95 H1106.65 A6,6 0 0 1 1100.65,709.95 V685.05 A6,6 0 0 1 1106.65,679.05 Z" fill="#fff" stroke="#1a1a1a" stroke-width="2.5"/>
<path d="M1271.05,679.05 H1296.55 A6,6 0 0 1 1302.55,685.05 V709.95 A6,6 0 0 1 1296.55,715.95 H1271.05 A6,6 0 0 1 1265.05,709.95 V685.05 A6,6 0 0 1 1271.05,679.05 Z" fill="#fff" stroke="#1a1a1a" stroke-width="2.5"/>
<path d="M1168.65,716.85 H1194.25 A6,6 0 0 1 1200.25,722.85 V748.05 A6,6 0 0 1 1194.25,754.05 H1168.65 A6,6 0 0 1 1162.65,748.05 V722.85 A6,6 0 0 1 1168.65,716.85 Z" fill="#fff" stroke="#1a1a1a" stroke-width="2.5"/>
<path d="M1145.05,781.05 H1170.45 A6,6 0 0 1 1176.45,787.05 V812.55 A6,6 0 0 1 1170.45,818.55 H1145.05 A6,6 0 0 1 1139.05,812.55 V787.05 A6,6 0 0 1 1145.05,781.05 Z" fill="#fff" stroke="#1a1a1a" stroke-width="2.5"/>
<rect x="1074.7" y="671.4" width="3.6" height="4.8" fill="#1a1a1a"/>
<rect x="1197.7" y="671.4" width="3.6" height="4.8" fill="#1a1a1a"/>
<rect x="1138.2" y="694.8000000000001" width="3.6" height="4.8" fill="#1a1a1a"/>
<rect x="1261.7" y="694.8000000000001" width="3.6" height="4.8" fill="#1a1a1a"/>
<rect x="1155.5" y="654.7" width="4.8" height="3.6" fill="#1a1a1a"/>
<rect x="1155.5" y="777.7" width="4.8" height="3.6" fill="#1a1a1a"/>
<rect x="1178.8" y="590.2" width="4.8" height="3.6" fill="#1a1a1a"/>
<rect x="1178.8" y="713.7" width="4.8" height="3.6" fill="#1a1a1a"/>
<circle cx="1169.9" cy="685.8" r="18.8" fill="none" stroke="#1a1a1a" stroke-width="1.2"/>
<circle cx="1165.1" cy="673.8" r="1.75" fill="#fff" stroke="#1a1a1a" stroke-width="1.6"/>
<circle cx="1174.5" cy="673.8" r="1.75" fill="#fff" stroke="#1a1a1a" stroke-width="1.6"/>
<circle cx="1158" cy="680.9" r="1.75" fill="#fff" stroke="#1a1a1a" stroke-width="1.6"/>
<circle cx="1181.4" cy="680.9" r="1.75" fill="#fff" stroke="#1a1a1a" stroke-width="1.6"/>
<circle cx="1158" cy="690.5" r="1.75" fill="#fff" stroke="#1a1a1a" stroke-width="1.6"/>
<circle cx="1181.4" cy="690.5" r="1.75" fill="#fff" stroke="#1a1a1a" stroke-width="1.6"/>
<circle cx="1165.1" cy="697.4" r="1.75" fill="#fff" stroke="#1a1a1a" stroke-width="1.6"/>
<circle cx="1174.5" cy="697.4" r="1.75" fill="#fff" stroke="#1a1a1a" stroke-width="1.6"/>
<circle cx="1169.8" cy="685.7" r="1.8" fill="#fff" stroke="#1a1a1a" stroke-width="1.2"/>
<circle cx="1181.6" cy="735.7" r="12.2" fill="#fff" stroke="#1a1a1a" stroke-width="1.9"/>
<circle cx="1191.91" cy="737.05" r="2.0" fill="#1a1a1a"/>
<circle cx="1189.86" cy="742.02" r="2.0" fill="#1a1a1a"/>
<circle cx="1185.59" cy="745.30" r="2.0" fill="#1a1a1a"/>
<circle cx="1180.25" cy="746.01" r="2.0" fill="#1a1a1a"/>
<circle cx="1175.28" cy="743.96" r="2.0" fill="#1a1a1a"/>
<circle cx="1172.00" cy="739.69" r="2.0" fill="#1a1a1a"/>
<circle cx="1171.29" cy="734.35" r="2.0" fill="#1a1a1a"/>
<circle cx="1173.34" cy="729.38" r="2.0" fill="#1a1a1a"/>
<circle cx="1177.61" cy="726.10" r="2.0" fill="#1a1a1a"/>
<circle cx="1182.95" cy="725.39" r="2.0" fill="#1a1a1a"/>
<circle cx="1187.92" cy="727.44" r="2.0" fill="#1a1a1a"/>
<circle cx="1191.20" cy="731.71" r="2.0" fill="#1a1a1a"/>
<path d="M1173.5,740.5 L1180,735 M1178.5,743.5 L1188,735 M1178,731 L1182,733.5 M1184,731.5 l3,2" stroke="#1a1a1a" stroke-width="3" stroke-linecap="round" fill="none"/>
<circle cx="1183" cy="737.5" r="2.4" fill="#1a1a1a"/>
<circle cx="1181.2" cy="735.2" r="1.1" fill="#fff"/>
<rect x="1161.6" y="759.1" width="41.50" height="8.30" rx="0" fill="none" stroke="#1a1a1a" stroke-width="1.5"/>
<path d="M1166.0,759.8 Q1168.5,763.2 1171.0,759.8" fill="none" stroke="#1a1a1a" stroke-width="1.4"/>
<path d="M1172.5,759.8 Q1175,763.2 1177.5,759.8" fill="none" stroke="#1a1a1a" stroke-width="1.4"/>
<path d="M1179.0,759.8 Q1181.5,763.2 1184.0,759.8" fill="none" stroke="#1a1a1a" stroke-width="1.4"/>
<path d="M1185.5,759.8 Q1188,763.2 1190.5,759.8" fill="none" stroke="#1a1a1a" stroke-width="1.4"/>
<path d="M1192.0,759.8 Q1194.5,763.2 1197.0,759.8" fill="none" stroke="#1a1a1a" stroke-width="1.4"/>
<rect x="1179.2" y="755" width="3" height="4.5" fill="#1a1a1a"/>
<line x1="1180.5" y1="770.5" x2="1180.5" y2="777.4" stroke="#1a1a1a" stroke-width="1.6" />
<path d="M1180.50,768.80 L1182.00,771.80 L1179.00,771.80 Z" fill="#1a1a1a"/>
<circle cx="1190.8" cy="775.5" r="5.8" fill="#fff" stroke="#1a1a1a" stroke-width="1.1"/>
<text x="1190.8" y="778.86" font-size="9.46" text-anchor="middle" fill="#1a1a1a">6</text>
<line x1="1208.8" y1="729" x2="1208.8" y2="739.5" stroke="#1a1a1a" stroke-width="1.6" />
<path d="M1208.80,726.20 L1210.30,729.40 L1207.30,729.40 Z" fill="#1a1a1a"/>
<path d="M1202.40,732.80 L1206.00,730.90 L1206.00,734.70 Z" fill="#1a1a1a"/>
<path d="M1205.5,733 Q1210,730.2 1213.8,732.2 Q1213,734.2 1209,734.6" fill="#1a1a1a" stroke="#1a1a1a" stroke-width="1.1"/>
<circle cx="1223" cy="732.8" r="6" fill="#fff" stroke="#1a1a1a" stroke-width="1.1"/>
<text x="1223" y="736.24" font-size="9.68" text-anchor="middle" fill="#1a1a1a">3</text>
<path d="M703.4,662.6 C713,661 718,653 722,644 C728,631 737,624 751,624 C764,624 772,627 784,627.5" fill="none" stroke="#1a1a1a" stroke-width="1.8"/>
<path d="M715.0,679.5 C723.0,672 726.0,660 729.0,650 C734.0,635.0 745,632.0 760,632.0 L784,631.5" fill="none" stroke="#1a1a1a" stroke-width="0.9"/>
<path d="M717.0,679.5 C725.0,672 728.0,660 731.0,650 C736.0,637.0 745,634.0 760,634.0 L784,633.5" fill="none" stroke="#1a1a1a" stroke-width="0.9"/>
<path d="M776,635 L786,638.6" stroke="#1a1a1a" stroke-width="1.4"/>
<rect x="694.2" y="696.4" width="9.20" height="53.10" rx="0" fill="#fff" stroke="#1a1a1a" stroke-width="1.3"/>
<rect x="694.8" y="749.5" width="8.1" height="8.5" fill="#1a1a1a"/>
<rect x="747.8" y="696.4" width="9.40" height="53.10" rx="0" fill="#fff" stroke="#1a1a1a" stroke-width="1.3"/>
<rect x="748.4" y="749.5" width="8.2" height="8.5" fill="#1a1a1a"/>
<rect x="719.3" y="719.3" width="9.20" height="59.50" rx="0" fill="#fff" stroke="#1a1a1a" stroke-width="1.3"/>
<rect x="719.9" y="778.8" width="8" height="9" fill="#1a1a1a"/>
<rect x="684.1" y="679.5" width="80.60" height="16.90" rx="0" fill="#fff" stroke="#1a1a1a" stroke-width="1.4"/>
<line x1="689.7" y1="683.3" x2="707.7" y2="683.3" stroke="#1a1a1a" stroke-width="1.6" />
<rect x="694.9" y="686.6" width="7.2" height="7.9" rx="1" fill="#1a1a1a"/>
<rect x="748.9" y="688.3" width="6.8" height="8.1" fill="#1a1a1a"/>
<rect x="720.6" y="689.6" width="7.7" height="6.6" fill="#1a1a1a"/>
<rect x="718" y="686.1" width="12.40" height="3.50" rx="0" fill="#fff" stroke="#1a1a1a" stroke-width="1.1"/>
<rect x="719.3" y="696.9" width="9.80" height="3.80" rx="0" fill="#fff" stroke="#1a1a1a" stroke-width="1.1"/>
<line x1="698.3" y1="642.4" x2="698.3" y2="683.3" stroke="#1a1a1a" stroke-width="1.1" />
<rect x="692.3" y="648.9" width="12.40" height="3.80" rx="0" fill="#fff" stroke="#1a1a1a" stroke-width="1.2"/>
<ellipse cx="698.3" cy="657.4" rx="6.2" ry="2.3" fill="#1a1a1a"/>
<line x1="694" y1="657.4" x2="702.6" y2="657.4" stroke="#999" stroke-width="0.5" />
<ellipse cx="698.3" cy="663.4" rx="6.2" ry="2.3" fill="#1a1a1a"/>
<line x1="694" y1="663.4" x2="702.6" y2="663.4" stroke="#999" stroke-width="0.5" />
<ellipse cx="698.3" cy="669.6" rx="6.2" ry="2.3" fill="#1a1a1a"/>
<line x1="694" y1="669.6" x2="702.6" y2="669.6" stroke="#999" stroke-width="0.5" />
<rect x="746.7" y="674.6" width="12.00" height="4.70" rx="0" fill="#fff" stroke="#1a1a1a" stroke-width="1.2"/>
<ellipse cx="752.9" cy="683.6" rx="6" ry="2.2" fill="#1a1a1a"/>
<rect x="766" y="667.7" width="12.40" height="3.90" rx="0" fill="#fff" stroke="#1a1a1a" stroke-width="1.2"/>
<ellipse cx="772" cy="676.3" rx="5.8" ry="2.2" fill="#1a1a1a"/>
<circle cx="697" cy="605.2" r="6.4" fill="#fff" stroke="#1a1a1a" stroke-width="1.2"/>
<text x="697" y="608.71" font-size="9.90" text-anchor="middle" fill="#1a1a1a">2</text>
<path d="M693.99,624.90 L692.68,624.80 L691.41,624.65 L690.19,624.47 L689.03,624.26 L687.94,624.01 L686.93,623.74 L686.00,623.43 L685.17,623.10 L684.44,622.75 L683.82,622.38 L683.32,621.99 L682.93,621.59 L682.67,621.18 L682.52,620.76 L682.51,620.34 L682.62,619.93 L682.85,619.51 L683.21,619.11 L683.69,618.72 L684.28,618.34 L684.98,617.98 L685.78,617.65 L686.69,617.34 L687.68,617.05 L688.75,616.80 L689.90,616.58 L691.10,616.39 L692.36,616.24 L693.66,616.12 L694.98,616.04 L696.33,616.00 L697.67,616.00 L699.02,616.04 L700.34,616.12 L701.64,616.24 L702.90,616.39 L704.10,616.58 L705.25,616.80 L706.32,617.05 L707.31,617.34 L708.22,617.65 L709.02,617.98 L709.72,618.34 L710.31,618.72 L710.79,619.11 L711.15,619.51 L711.38,619.93 L711.49,620.34 L711.48,620.76 L711.33,621.18 L711.07,621.59 L710.68,621.99 L710.18,622.38 L709.56,622.75 L708.83,623.10 L708.00,623.43 L707.07,623.74 L706.06,624.01 L704.97,624.26 L703.81,624.47" fill="none" stroke="#1a1a1a" stroke-width="1.2"/>
<circle cx="703.81" cy="624.47" r="1.5" fill="#1a1a1a"/>
<line x1="697.9" y1="616" x2="697.9" y2="632.5" stroke="#1a1a1a" stroke-width="1.2" />
<path d="M697.90,636.30 L696.10,632.30 L699.70,632.30 Z" fill="#1a1a1a"/>
<path d="M681,687.6 H673" stroke="#1a1a1a" stroke-width="3.4"/>
<path d="M668.60,687.60 L673.60,684.90 L673.60,690.30 Z" fill="#1a1a1a"/>
<path d="M792.9,687.6 H801" stroke="#1a1a1a" stroke-width="3.4"/>
<path d="M805.80,687.60 L800.80,690.30 L800.80,684.90 Z" fill="#1a1a1a"/>
<circle cx="622.9" cy="687.1" r="6.3" fill="#fff" stroke="#1a1a1a" stroke-width="1.2"/>
<text x="622.9" y="690.61" font-size="9.90" text-anchor="middle" fill="#1a1a1a">8</text>
<path d="M645.21,699.25 L644.89,700.37 L644.54,701.39 L644.16,702.32 L643.76,703.14 L643.34,703.84 L642.90,704.42 L642.45,704.89 L641.98,705.22 L641.51,705.43 L641.03,705.50 L640.56,705.44 L640.08,705.25 L639.62,704.94 L639.16,704.49 L638.72,703.92 L638.29,703.24 L637.89,702.43 L637.51,701.52 L637.15,700.51 L636.83,699.40 L636.53,698.21 L636.27,696.94 L636.05,695.61 L635.86,694.21 L635.71,692.77 L635.60,691.30 L635.53,689.80 L635.50,688.29 L635.51,686.77 L635.57,685.26 L635.66,683.78 L635.80,682.32 L635.97,680.91 L636.18,679.55 L636.43,678.26 L636.71,677.03 L637.03,675.89 L637.37,674.85 L637.74,673.90 L638.14,673.05 L638.56,672.32 L638.99,671.71 L639.44,671.21 L639.91,670.85 L640.38,670.61 L640.85,670.51 L641.33,670.53 L641.80,670.69 L642.27,670.97 L642.73,671.39 L643.18,671.93 L643.60,672.59 L644.01,673.36 L644.40,674.25 L644.76,675.24 L645.10,676.32 L645.40,677.49 L645.67,678.74 L645.90,680.06 L646.10,681.44" fill="none" stroke="#1a1a1a" stroke-width="1.2"/>
<path d="M645.80,683.04 L645.08,679.54 L648.17,680.37 Z" fill="#1a1a1a"/>
<line x1="636.8" y1="687.6" x2="657" y2="687.6" stroke="#1a1a1a" stroke-width="1.1" />
<path d="M655.5,684.8 L659.8,687.6 L655.5,690.4" fill="none" stroke="#1a1a1a" stroke-width="1.1"/>
<circle cx="778.9" cy="720.9" r="6.6" fill="#fff" stroke="#1a1a1a" stroke-width="1.2"/>
<text x="778.9" y="724.41" font-size="9.90" text-anchor="middle" fill="#1a1a1a">4</text>
<path d="M779.59,745.50 L778.28,745.38 L777.01,745.23 L775.79,745.04 L774.63,744.81 L773.54,744.55 L772.53,744.25 L771.60,743.93 L770.77,743.58 L770.04,743.20 L769.42,742.80 L768.92,742.39 L768.53,741.96 L768.27,741.52 L768.12,741.08 L768.11,740.63 L768.22,740.19 L768.45,739.75 L768.81,739.32 L769.29,738.90 L769.88,738.50 L770.58,738.12 L771.38,737.76 L772.29,737.43 L773.28,737.12 L774.35,736.85 L775.50,736.62 L776.70,736.41 L777.96,736.25 L779.26,736.13 L780.58,736.05 L781.93,736.01 L783.27,736.01 L784.62,736.05 L785.94,736.13 L787.24,736.25 L788.50,736.41 L789.70,736.62 L790.85,736.85 L791.92,737.12 L792.91,737.43 L793.82,737.76 L794.62,738.12 L795.32,738.50 L795.91,738.90 L796.39,739.32 L796.75,739.75 L796.98,740.19 L797.09,740.63 L797.08,741.08 L796.93,741.52 L796.67,741.96 L796.28,742.39 L795.78,742.80 L795.16,743.20 L794.43,743.58 L793.60,743.93 L792.67,744.25 L791.66,744.55 L790.57,744.81 L789.41,745.04" fill="none" stroke="#1a1a1a" stroke-width="1.2"/>
<circle cx="789.41" cy="745.04" r="1.5" fill="#1a1a1a"/>
<line x1="783.3" y1="736.2" x2="783.3" y2="752.5" stroke="#1a1a1a" stroke-width="1.2" />
<path d="M783.30,756.00 L781.50,752.00 L785.10,752.00 Z" fill="#1a1a1a"/>
<circle cx="745.6" cy="789.1" r="6.4" fill="#fff" stroke="#1a1a1a" stroke-width="1.2"/>
<text x="745.6" y="792.61" font-size="9.90" text-anchor="middle" fill="#1a1a1a">5</text>
<path d="M741.94,809.00 L740.62,808.88 L739.34,808.73 L738.10,808.54 L736.92,808.31 L735.82,808.05 L734.79,807.75 L733.85,807.43 L733.01,807.08 L732.27,806.70 L731.64,806.30 L731.13,805.89 L730.74,805.46 L730.47,805.02 L730.32,804.58 L730.31,804.13 L730.42,803.69 L730.66,803.25 L731.02,802.82 L731.50,802.40 L732.10,802.00 L732.81,801.62 L733.63,801.26 L734.55,800.93 L735.55,800.62 L736.64,800.35 L737.80,800.12 L739.02,799.91 L740.30,799.75 L741.61,799.63 L742.95,799.55 L744.32,799.51 L745.68,799.51 L747.05,799.55 L748.39,799.63 L749.70,799.75 L750.98,799.91 L752.20,800.12 L753.36,800.35 L754.45,800.62 L755.45,800.93 L756.37,801.26 L757.19,801.62 L757.90,802.00 L758.50,802.40 L758.98,802.82 L759.34,803.25 L759.58,803.69 L759.69,804.13 L759.68,804.58 L759.53,805.02 L759.26,805.46 L758.87,805.89 L758.36,806.30 L757.73,806.70 L756.99,807.08 L756.15,807.43 L755.21,807.75 L754.18,808.05 L753.08,808.31 L751.90,808.54" fill="none" stroke="#1a1a1a" stroke-width="1.2"/>
<circle cx="751.90" cy="808.54" r="1.5" fill="#1a1a1a"/>
<line x1="745.5" y1="799.5" x2="745.5" y2="815.5" stroke="#1a1a1a" stroke-width="1.2" />
<path d="M745.50,819.00 L743.70,815.00 L747.30,815.00 Z" fill="#1a1a1a"/>
<circle cx="833.1" cy="661.5" r="6.5" fill="#fff" stroke="#1a1a1a" stroke-width="1.2"/>
<text x="833.1" y="665.01" font-size="9.90" text-anchor="middle" fill="#1a1a1a">7</text>
<path d="M785.40,642.10 L812.90,632.90 L835.40,637.50 L807.10,646.80 Z" fill="none" stroke="#1a1a1a" stroke-width="1.4" stroke-linejoin="round" />
<ellipse cx="811" cy="639.2" rx="1.6" ry="0.9" fill="#1a1a1a"/>
<path d="M784.30,618.60 L805.00,623.60 L805.00,632.10 L784.30,627.40 Z" fill="#fff" stroke="#1a1a1a" stroke-width="1.4" stroke-linejoin="round" />
<path d="M805.00,623.60 L826.40,617.10 L826.40,625.70 L805.00,632.10 Z" fill="#fff" stroke="#1a1a1a" stroke-width="1.4" stroke-linejoin="round" />
<path d="M784.30,618.60 L806.00,613.00 L826.40,617.10 L805.00,623.60 Z" fill="#fff" stroke="#1a1a1a" stroke-width="1.2" stroke-linejoin="round" />
<path d="M792.1,617.1 V607.1 Q794.6,605.1 797.1,607.1 V617.1" fill="#fff" stroke="#1a1a1a" stroke-width="1.5"/>
<path d="M798.9,618.7 V608.7 Q801.4,606.7 803.9,608.7 V618.7" fill="#fff" stroke="#1a1a1a" stroke-width="1.5"/>
<path d="M806.8,619.7 V609.7 Q809.3,607.7 811.8,609.7 V619.7" fill="#fff" stroke="#1a1a1a" stroke-width="1.5"/>
<path d="M813.9,618.1 V608.1 Q816.4,606.1 818.9,608.1 V618.1" fill="#fff" stroke="#1a1a1a" stroke-width="1.5"/>
<rect x="785.4" y="619.00" width="4.4" height="8" fill="#fff" stroke="#1a1a1a" stroke-width="1.4"/>
<rect x="791.4" y="620.32" width="4.4" height="8" fill="#fff" stroke="#1a1a1a" stroke-width="1.4"/>
<rect x="797.4" y="621.64" width="4.4" height="8" fill="#fff" stroke="#1a1a1a" stroke-width="1.4"/>
<line x1="827.1" y1="621.4" x2="864" y2="607.5" stroke="#1a1a1a" stroke-width="1.2" />
<line x1="827.1" y1="621.4" x2="872.1" y2="630.7" stroke="#1a1a1a" stroke-width="1.2" />
<path d="M864,606 A81,56.8 0 1 1 872.1,630.7" fill="none" stroke="#1a1a1a" stroke-width="1.3"/>
<path d="M997.80,594.70 L979.20,627.50 L1017.10,627.50 Z" fill="#fff" stroke="#1a1a1a" stroke-width="1.6" stroke-linejoin="round" />
<path d="M996.5,600 L990.8,616.5 L996.6,615.2 L994.5,624.8 L1004.6,612.2 L998.6,613.4 L1001.6,600.6 Z" fill="#1a1a1a"/>
<text x="921.3" y="581.2" font-size="8.6" text-anchor="middle" fill="#1a1a1a" >N</text>
<text x="987" y="590.6" font-size="8.6" text-anchor="middle" fill="#1a1a1a" >L</text>
<text x="902" y="630.5" font-size="8.6" text-anchor="middle" fill="#1a1a1a" >N</text>
<text x="964.6" y="630.5" font-size="8.6" text-anchor="middle" fill="#1a1a1a" >L</text>
<line x1="926.4" y1="576.7" x2="954.7" y2="576.7" stroke="#1a1a1a" stroke-width="1.1" />
<line x1="929.6" y1="586.3" x2="956.6" y2="586.3" stroke="#1a1a1a" stroke-width="1.1" />
<line x1="965.7" y1="585.7" x2="983.7" y2="585.7" stroke="#1a1a1a" stroke-width="1.1" />
<line x1="906.5" y1="625.6" x2="925.1" y2="625.6" stroke="#1a1a1a" stroke-width="1.1" />
<line x1="940.6" y1="625.6" x2="961.8" y2="625.6" stroke="#1a1a1a" stroke-width="1.1" />
<line x1="937.3" y1="632" x2="949.6" y2="632" stroke="#1a1a1a" stroke-width="1.1" />
<circle cx="925.1" cy="587" r="4.4" fill="#fff" stroke="#1a1a1a" stroke-width="1.2"/>
<path d="M922.1,585.8 H928.1 M922.9,587.4 H927.3000000000001 M923.9,589 H926.3000000000001 M925.1,585.8 V583.6" stroke="#1a1a1a" stroke-width="0.8"/>
<circle cx="954.1" cy="632" r="4.4" fill="#fff" stroke="#1a1a1a" stroke-width="1.2"/>
<path d="M951.1,630.8 H957.1 M951.9,632.4 H956.3000000000001 M952.9,634 H955.3000000000001 M954.1,630.8 V628.6" stroke="#1a1a1a" stroke-width="0.8"/>
<path d="M959.9,563.8 C957,574 951,585 945,593 C941,598 937,601 935,603" fill="none" stroke="#1a1a1a" stroke-width="1.3"/>
<path d="M959.9,563.8 C960,580 955,592 947,604" fill="none" stroke="#1a1a1a" stroke-width="1.3"/>
<path d="M959.9,563.8 C969,572 971,586 968,596 C966,602 962,604 957,606" fill="none" stroke="#1a1a1a" stroke-width="1.3"/>
<circle cx="959.9" cy="564.5" r="1.3" fill="#1a1a1a"/>
<path d="M926,620 C930,638 936,652 932.5,662.5" fill="none" stroke="#1a1a1a" stroke-width="1.2"/>
<path d="M940,621 C933,638 931,650 937,662.5" fill="none" stroke="#1a1a1a" stroke-width="1.2"/>
<path d="M922.50,609.50 L942.50,616.60 L942.50,622.30 L922.50,615.50 Z" fill="#fff" stroke="#1a1a1a" stroke-width="1.3" stroke-linejoin="round" />
<path d="M942.50,616.60 L963.10,608.60 L963.10,615.90 L942.50,622.30 Z" fill="#fff" stroke="#1a1a1a" stroke-width="1.3" stroke-linejoin="round" />
<path d="M922.50,609.50 L943.00,602.50 L963.10,608.60 L942.50,616.60 Z" fill="#fff" stroke="#1a1a1a" stroke-width="1.1" stroke-linejoin="round" />
<path d="M929.6,608.5 V599.0 Q932.2,597.2 934.8000000000001,599.0 V608.5" fill="#fff" stroke="#1a1a1a" stroke-width="1.3"/>
<path d="M936.6999999999999,610.8 V601.3 Q939.3,599.5 941.9,601.3 V610.8" fill="#fff" stroke="#1a1a1a" stroke-width="1.3"/>
<path d="M944.4,611.5 V602.0 Q947,600.2 949.6,602.0 V611.5" fill="#fff" stroke="#1a1a1a" stroke-width="1.3"/>
<path d="M950.8,609.5 V600.0 Q953.4,598.2 956.0,600.0 V609.5" fill="#fff" stroke="#1a1a1a" stroke-width="1.3"/>
<rect x="923.5" y="611.00" width="4.2" height="7" fill="#333" stroke="#1a1a1a" stroke-width="1.1"/>
<rect x="929.5" y="612.98" width="4.2" height="7" fill="#333" stroke="#1a1a1a" stroke-width="1.1"/>
<rect x="935.5" y="614.96" width="4.2" height="7" fill="#333" stroke="#1a1a1a" stroke-width="1.1"/>
</svg>
</body></html>
